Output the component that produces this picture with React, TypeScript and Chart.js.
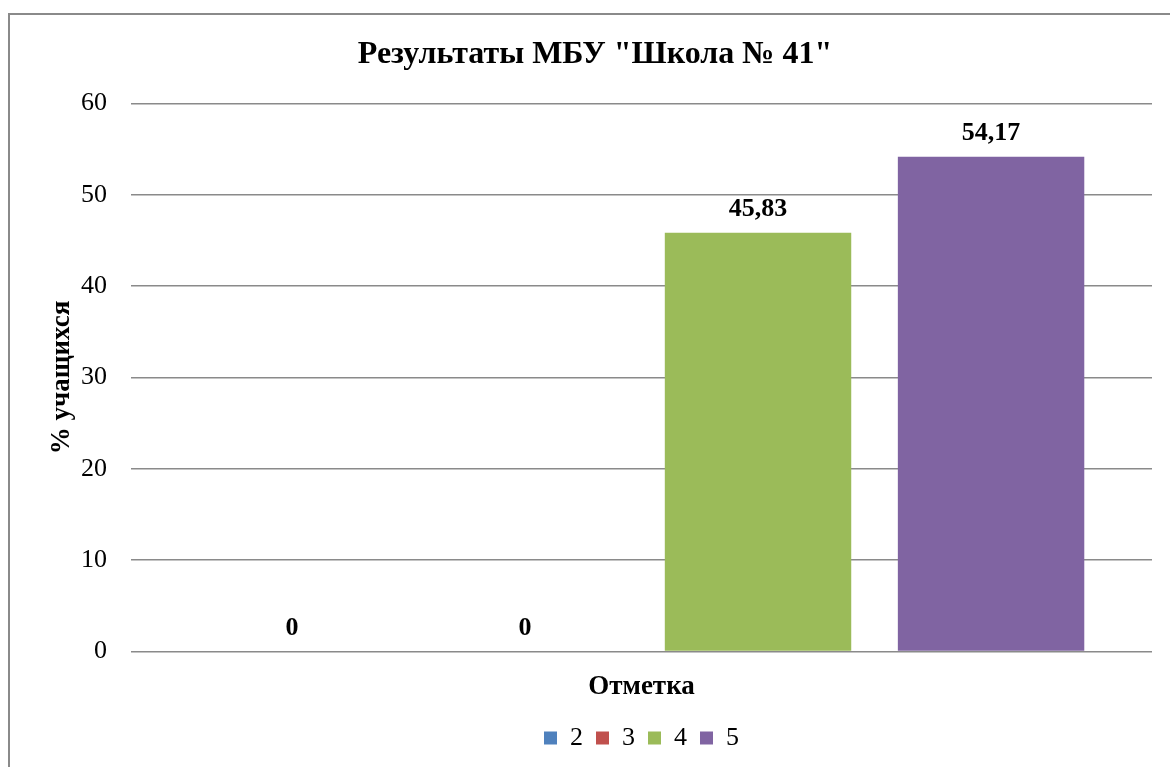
import React, { useEffect, useRef } from "react";
import { Chart, registerables } from "chart.js";

Chart.register(...registerables);

const TITLE = 'Результаты МБУ "Школа № 41"';
const Y_TITLE = "% учащихся";
const X_TITLE = "Отметка";
const CATEGORIES = [""];
const SERIES_NAMES = ["2", "3", "4", "5"];
const SERIES_VALUES = [[0], [0], [45.83], [54.17]];
const SERIES_COLORS = ["#4F81BD", "#C0504D", "#9BBB59", "#8064A2"];
const Y_MIN = 0;
const Y_MAX = 60;
const Y_STEP = 10;

const FONT = "'Liberation Serif', 'Times New Roman', serif";

const valueLabels = {
  id: "valueLabels",
  afterDatasetsDraw(chart: any) {
    const ctx = chart.ctx;
    ctx.save();
    ctx.font = `bold 26px ${FONT}`;
    ctx.fillStyle = "#000";
    ctx.textAlign = "center";
    ctx.textBaseline = "alphabetic";
    chart.data.datasets.forEach((ds: any, i: number) => {
      const meta = chart.getDatasetMeta(i);
      meta.data.forEach((el: any, j: number) => {
        const v = ds.data[j];
        const txt = String(v).replace(".", ",");
        ctx.fillText(txt, el.x, el.y - 17);
      });
    });
    ctx.restore();
  },
};

export default function App() {
  const ref = useRef<HTMLCanvasElement>(null);
  useEffect(() => {
    if (!ref.current) return;
    const chart = new Chart(ref.current, {
      type: "bar",
      data: {
        labels: CATEGORIES,
        datasets: SERIES_NAMES.map((n, i) => ({
          label: n,
          data: SERIES_VALUES[i],
          backgroundColor: SERIES_COLORS[i],
          borderWidth: 0,
          categoryPercentage: 0.913,
          barPercentage: 0.8,
        })),
      },
      options: {
        animation: false,
        responsive: false,
        maintainAspectRatio: false,
        layout: { padding: { left: 28, right: 18, top: 0, bottom: 6 } },
        plugins: {
          title: {
            display: true,
            text: TITLE,
            color: "#000",
            font: { family: FONT, size: 32, weight: "bold" },
            padding: { top: 21, bottom: 29 },
          },
          legend: {
            display: true,
            position: "bottom",
            fullSize: false,
            labels: {
              color: "#000",
              font: { family: FONT, size: 26 },
              boxWidth: 13,
              boxHeight: 13,
              padding: 13,
            },
          },
          tooltip: { enabled: false },
        },
        scales: {
          x: {
            grid: { display: false, drawTicks: false },
            border: { display: false },
            ticks: { display: false },
            title: {
              display: true,
              text: X_TITLE,
              color: "#000",
              font: { family: FONT, size: 27, weight: "bold" },
              padding: { top: 19, bottom: 9 },
            },
          },
          y: {
            min: Y_MIN,
            max: Y_MAX,
            ticks: {
              stepSize: Y_STEP,
              color: "#000",
              font: { family: FONT, size: 26 },
              padding: 24,
            },
            grid: { color: "#8a8a8a", lineWidth: 1.5, drawTicks: false },
            border: { display: false },
            title: {
              display: true,
              text: Y_TITLE,
              color: "#000",
              font: { family: FONT, size: 27, weight: "bold" },
              padding: { top: 8, bottom: 0 },
            },
            afterFit(scale: any) {
              scale.width = 93;
            },
          },
        },
      },
      plugins: [valueLabels],
    } as any);
    return () => chart.destroy();
  }, []);
  return (
    <div
      style={{
        position: "absolute",
        left: 8,
        top: 13,
        width: 1162,
        height: 754,
        borderLeft: "2px solid #8a8a8a",
        borderTop: "2px solid #8a8a8a",
        boxSizing: "border-box",
        background: "#fff",
      }}
    >
      <canvas ref={ref} width={1160} height={752} style={{ display: "block" }} />
    </div>
  );
}
